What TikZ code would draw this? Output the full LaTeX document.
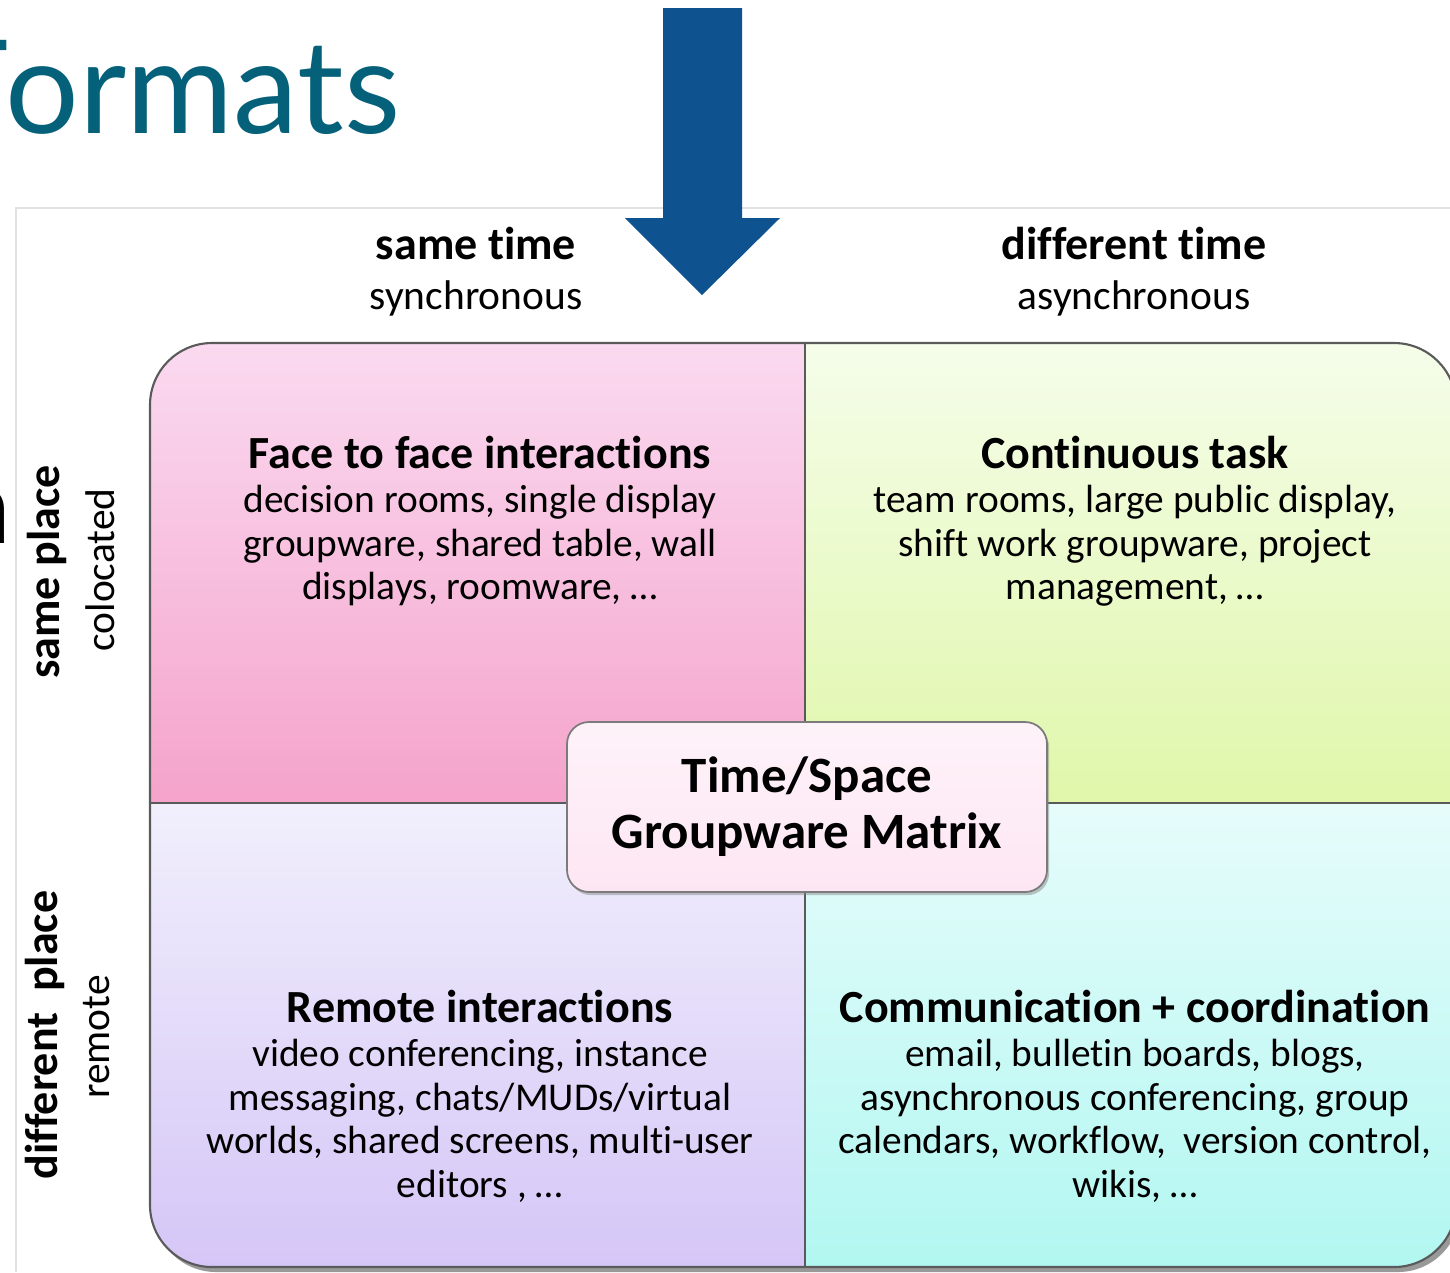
\documentclass[tikz,border=0pt]{standalone}
\usepackage{fontspec}
\setmainfont{Carlito}[Ligatures=NoCommon]
\newfontfamily\titlefont{Lato}
\usetikzlibrary{positioning,shadows}

\definecolor{titleteal}{HTML}{05617A}
\definecolor{arrowblue}{HTML}{0E5390}
\definecolor{framegray}{HTML}{E2E2E2}
\definecolor{linegray}{HTML}{5A5A5A}
\definecolor{faceTop}{HTML}{FADAF0}
\definecolor{faceBot}{HTML}{F5A3CB}
\definecolor{taskTop}{HTML}{F5FDEA}
\definecolor{taskBot}{HTML}{E0F7AA}
\definecolor{remoteTop}{HTML}{F1EFFC}
\definecolor{remoteBot}{HTML}{D5C6F7}
\definecolor{commTop}{HTML}{E6FCFB}
\definecolor{commBot}{HTML}{B2F7F1}
\definecolor{centerfill}{HTML}{FDE6F3}

\tikzstyle{quadhead} = [font=\fontsize{13.1}{15}\selectfont\bfseries, inner sep=0pt]
\tikzstyle{quadbody} = [font=\fontsize{11.2}{12.5}\selectfont, align=center, inner sep=0pt]
\tikzstyle{axishead} = [font=\fontsize{13.1}{15}\selectfont\bfseries, inner sep=0pt]
\tikzstyle{axissub} = [font=\fontsize{11.8}{14}\selectfont, inner sep=0pt]
\tikzstyle{divider} = [linegray, line width=0.5pt]
\tikzstyle{centerbox} = [draw=linegray!80, line width=0.5pt, top color=centerfill!50, bottom color=centerfill, rounded corners=0.22cm,
    minimum width=4.80cm, minimum height=1.70cm, align=center, inner sep=0pt,
    font=\fontsize{14.5}{15.9}\selectfont\bfseries,
    drop shadow={shadow xshift=0.6pt, shadow yshift=-0.9pt, opacity=0.45}]

\begin{document}
\begin{tikzpicture}
\useasboundingbox (0,0) rectangle (14.5,-12.72);

% frame of the pasted slide picture
\draw[framegray, line width=0.6pt] (0.16,-12.72) -- (0.16,-2.08) -- (14.5,-2.08);

% slide title, cut at the left edge
\node[titleteal, font=\titlefont\fontsize{37}{40}\selectfont, anchor=base east, inner sep=0pt] (title) at (4.01,-1.33) {Formats};
\node[font=\titlefont\fontsize{30}{32}\selectfont, anchor=base east, inner sep=0pt] (cutletter) at (0.12,-5.43) {n};

% block arrow
\fill[arrowblue] (6.63,-0.08) -- (7.42,-0.08) -- (7.42,-2.18) -- (7.80,-2.18)
    -- (7.02,-2.95) -- (6.25,-2.18) -- (6.63,-2.18) -- cycle;

% matrix corners
\coordinate (nw) at (1.50,-3.43);
\coordinate (se) at (14.56,-12.67);
\coordinate (mid) at (8.05,-8.03);

% quadrants
\fill[black!40, rounded corners=0.62cm] ([shift={(0.04,-0.05)}]nw) rectangle ([shift={(0.04,-0.05)}]se);
\begin{scope}
  \clip[rounded corners=0.62cm] (nw) rectangle (se);
  \shade[top color=faceTop, bottom color=faceBot] (nw) rectangle (mid);
  \shade[top color=taskTop, bottom color=taskBot] (nw -| se) rectangle (mid);
  \shade[top color=remoteTop, bottom color=remoteBot] (nw |- se) rectangle (mid);
  \shade[top color=commTop, bottom color=commBot] (se) rectangle (mid);
\end{scope}
\draw[divider] (mid |- nw) -- (mid |- se);
\draw[divider] (mid -| nw) -- (mid -| se);
\draw[linegray, line width=0.6pt, rounded corners=0.62cm] (nw) rectangle (se);

% axis labels
\node[axishead] (sametime) at (4.76,-2.43) {same time};
\node[axissub] (sync) at (4.76,-2.98) {synchronous};
\node[axishead] (difftime) at (11.34,-2.43) {different time};
\node[axissub] (async) at (11.34,-2.98) {asynchronous};
\node[axishead, rotate=90] (sameplace) at (0.47,-5.72) {same place};
\node[axissub, rotate=90] (colocated) at (1.00,-5.70) {colocated};
\node[axishead, rotate=90] (diffplace) at (0.45,-10.35) {different\ \ place};
\node[axissub, rotate=90] (remote) at (0.97,-10.37) {remote};

% quadrant texts
\node[quadhead] (facehead) at (4.80,-4.52) {Face to face interactions};
\node[quadbody, below=0.15cm of facehead] (facebody) {decision rooms, single display\\groupware, shared table, wall\\displays, roomware, …};
\node[quadhead] (taskhead) at (11.35,-4.52) {Continuous task};
\node[quadbody, below=0.15cm of taskhead] (taskbody) {team rooms, large public display,\\shift work groupware, project\\management, …};
\node[quadhead] (remotehead) at (4.80,-10.06) {Remote interactions};
\node[quadbody, below=0.15cm of remotehead] (remotebody) {video conferencing, instance\\messaging, chats/MUDs/virtual\\worlds, shared screens, multi-user\\editors , …};
\node[quadhead] (commhead) at (11.35,-10.06) {Communication + coordination};
\node[quadbody, below=0.15cm of commhead] (commbody) {email, bulletin boards, blogs,\\asynchronous conferencing, group\\calendars, workflow,\ \ version control,\\wikis, …};

% centre label
\node[centerbox] (matrixbox) at (8.07,-8.07) {Time/Space\\Groupware Matrix};
\end{tikzpicture}
\end{document}
